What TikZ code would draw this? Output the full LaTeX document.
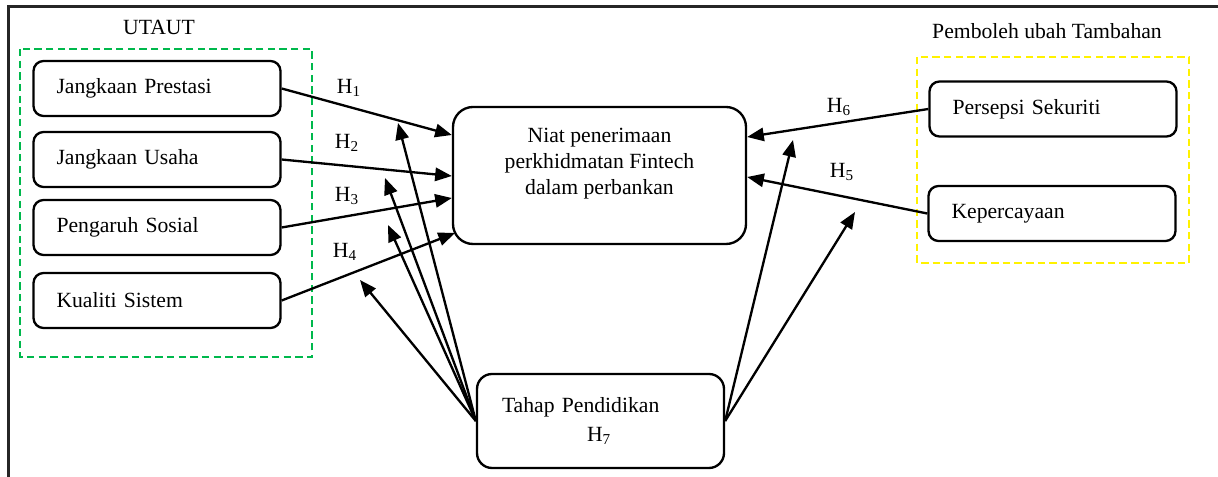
\documentclass[tikz,border=0pt]{standalone}
\usepackage{fontspec}
\setmainfont{Liberation Serif}
\usetikzlibrary{arrows.meta, positioning}

\begin{document}
\begin{tikzpicture}[
    x=0.6pt, y=-0.6pt,
    font=\fontsize{13}{15.6}\selectfont,
    block/.style={rectangle, draw, rounded corners=6pt, line width=1.4pt, minimum height=33pt, text width=120.6pt, inner xsep=13.8pt, align=left},
    target/.style={rectangle, draw, rounded corners=12pt, line width=1.4pt, minimum width=175.8pt, minimum height=82.2pt},
    moderator/.style={rectangle, draw, rounded corners=9pt, line width=1.4pt, minimum height=56.4pt, text width=118.2pt, inner xsep=15pt, align=left},
    arr/.style={-{Triangle[length=10pt, width=8pt]}, line width=1.4pt},
    hyp/.style={inner sep=1pt},
    frame/.style={line width=1.8pt, black!85}
]
\useasboundingbox (0,0) rectangle (1218,477);

% Frame
\draw[frame] (8,477) -- (8,7) -- (1218,7);

% Groups
\draw[green!60!black!70!cyan, line width=1pt, dash pattern=on 4.5pt off 2.5pt] (20,49) rectangle (312,357);
\draw[yellow, line width=1pt, dash pattern=on 4.5pt off 2.5pt] (917,57) rectangle (1189,263);
\node (utaut-title) at (159,27) {UTAUT};
\node (extra-title) at (1047,31) {Pemboleh ubah Tambahan};

% Nodes
\node [block] (prestasi) at (157,88.5) {Jangkaan Prestasi};
\node [block] (usaha) at (157,159.5) {Jangkaan Usaha};
\node [block] (sosial) at (157,227.5) {Pengaruh Sosial};
\node [block] (sistem) at (157,300.5) {Kualiti Sistem};
\node [target, label={[align=center, anchor=north, inner sep=0pt, yshift=-13.2pt]north:Niat penerimaan\\perkhidmatan Fintech\\dalam perbankan}] (niat) at (599.5,175.5) {};
\node [block] (sekuriti) at (1053,109) {Persepsi Sekuriti};
\node [block] (percaya) at (1052,213.5) {Kepercayaan};
\node [moderator] (pendidikan) at (600.5,421) {Tahap Pendidikan\\[1.8pt]\hspace*{51pt}H\textsubscript{7}};

% Free ends of the moderator arrows
\coordinate (m1) at (398,123);
\coordinate (m2) at (385,178);
\coordinate (m3) at (388,225);
\coordinate (m4) at (360,280);
\coordinate (m5) at (793,140);
\coordinate (m6) at (855,212);

% Arrows
\draw[arr] (prestasi.east) -- (niat.west |- 0,135);
\draw[arr] (usaha.east) -- (niat.west |- 0,176);
\draw[arr] (sosial.east) -- (niat.west |- 0,198);
\draw[arr] (sistem.east) -- (455,233);
\draw[arr] (sekuriti.west) -- (niat.east |- 0,137);
\draw[arr] (percaya.west) -- (niat.east |- 0,177);
\foreach \m in {m1,m2,m3,m4}
    \draw[arr] (pendidikan.west) -- (\m);
\foreach \m in {m5,m6}
    \draw[arr] (pendidikan.east) -- (\m);

% Labels
\node [hyp] (h1) at (349,88) {H\textsubscript{1}};
\node [hyp] (h2) at (347,143) {H\textsubscript{2}};
\node [hyp] (h3) at (347,196) {H\textsubscript{3}};
\node [hyp] (h4) at (345,252) {H\textsubscript{4}};
\node [hyp] (h6) at (839,107) {H\textsubscript{6}};
\node [hyp] (h5) at (842,172) {H\textsubscript{5}};
\end{tikzpicture}
\end{document}
